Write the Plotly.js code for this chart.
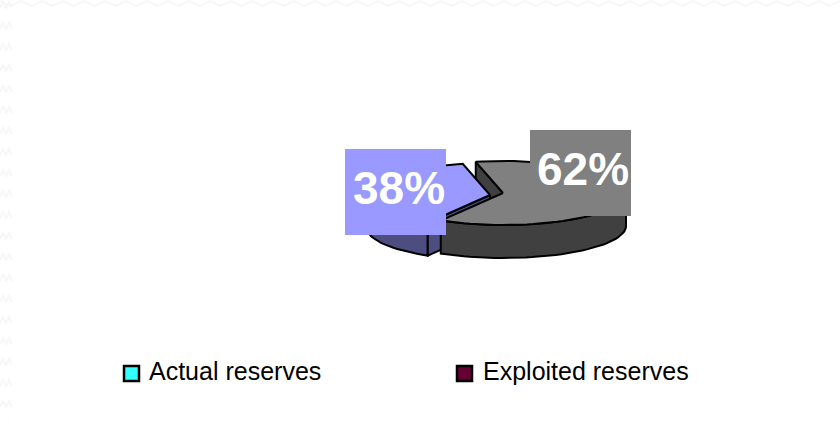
<!DOCTYPE html>
<html>
<head>
<meta charset="utf-8">
<script src="https://cdn.plot.ly/plotly-3.0.1.min.js"></script>
<style>html,body{margin:0;padding:0;background:#fff}#c{width:840px;height:421px}</style>
</head>
<body>
<div id="c"></div>
<script>
var seriesNames = ['Actual reserves', 'Exploited reserves'];
var seriesValues = [38, 62];
var sliceColors = ['#9999ff', '#808080'];
var sideColors = ['#4d4d80', '#404040'];
var legendColors = ['#33ffff', '#660033'];

var RX = 123, RY = 32, DEPTH = 33;
var START = 210.4;                     // clockwise degrees from 12 o'clock
var centers = [[490, 195], [503, 193]];
var total = seriesValues[0] + seriesValues[1];
var span0 = seriesValues[0] / total * 360;
var angles = [[START, START + span0], [START + span0, START + 360]];

function rim(c, a, dy) {
  var r = a * Math.PI / 180;
  return [c[0] + RX * Math.sin(r), c[1] - RY * Math.cos(r) + (dy || 0)];
}
function arc(c, a0, a1, dy) {
  var pts = [], n = Math.ceil(Math.abs(a1 - a0) / 3);
  for (var i = 0; i <= n; i++) pts.push(rim(c, a0 + (a1 - a0) * i / n, dy));
  return pts;
}
function poly(pts, fill) {
  return {
    type: 'scatter', mode: 'lines', hoverinfo: 'skip', showlegend: false,
    x: pts.map(function (p) { return p[0]; }).concat([pts[0][0]]),
    y: pts.map(function (p) { return p[1]; }).concat([pts[0][1]]),
    fill: 'toself', fillcolor: fill, line: {color: '#000', width: 2}
  };
}
// outer wall of a slice: visible part of the rim is the front half (90..270 deg)
function wall(c, a0, a1) {
  var f0 = Math.max(a0, 90), f1 = Math.min(a1, 270);
  if (a1 > 360) { f0 = 90; f1 = Math.min(a1 - 360, 270); }
  return arc(c, f0, f1, 0).concat(arc(c, f1, f0, DEPTH));
}
function cutFace(c, a) {
  var e = rim(c, a, 0);
  return [c, e, [e[0], e[1] + DEPTH], [c[0], c[1] + DEPTH]];
}
function topFace(c, a0, a1) { return [c].concat(arc(c, a0, a1, 0)); }

var traces = [
  // back cut face of the grey slice
  poly(cutFace(centers[1], angles[1][0]), sideColors[1]),
  // blue slice
  poly(wall(centers[0], angles[0][0], angles[0][1]), sideColors[0]),
  poly(cutFace(centers[0], angles[0][0]), sideColors[0]),
  poly(topFace(centers[0], angles[0][0], angles[0][1]), sliceColors[0]),
  // grey slice
  poly(wall(centers[1], angles[1][0], angles[1][1]), sideColors[1]),
  poly(topFace(centers[1], angles[1][0], angles[1][1]), sliceColors[1]),
  // legend swatches
  {
    type: 'scatter', mode: 'markers', hoverinfo: 'skip', showlegend: false,
    x: [131.5, 464.5], y: [373.5, 373.5],
    marker: {symbol: 'square', size: 15, color: legendColors, line: {color: '#000', width: 2.5}}
  }
];

var boxes = [[345, 446, 149, 235], [530, 631, 130, 216]];
var labelPos = [[399, 188], [583, 169]];
var shapes = boxes.map(function (b, i) {
  return {type: 'rect', layer: 'above', x0: b[0], x1: b[1], y0: b[2], y1: b[3],
          fillcolor: sliceColors[i], line: {width: 0}};
});
// faint zigzag wallpaper along the top and left edges
var zt = 'M-10,1', zl = '';
for (var x = 0; x <= 850; x += 10.5) zt += ' L' + x + ',' + (Math.round(x / 10.5) % 2 ? 6 : 1);
for (var y = 0; y < 430; y += 21) {
  zl += 'M0,' + (y + 8) + ' L3,' + (y + 2) + ' L6,' + (y + 8) + ' L9,' + (y + 2) + ' L12,' + (y + 8);
}
shapes.unshift({type: 'path', layer: 'below', path: zt, line: {color: '#f7f7f7', width: 2}});
shapes.unshift({type: 'path', layer: 'below', path: zl, line: {color: '#f7f7f7', width: 2}});

var annotations = seriesValues.map(function (v, i) {
  return {x: labelPos[i][0], y: labelPos[i][1], xref: 'x', yref: 'y', showarrow: false,
          text: '<b>' + Math.round(v / total * 100) + '%</b>',
          font: {family: 'Liberation Sans', size: 46, color: '#fff'}};
});
[149, 483].forEach(function (xp, i) {
  annotations.push({x: xp, y: 371, xref: 'x', yref: 'y', showarrow: false, xanchor: 'left',
    text: seriesNames[i], font: {family: 'Liberation Sans', size: 25, color: '#000'}, xshift: -2});
});

var hidden = {visible: false, fixedrange: true};
Plotly.newPlot('c', traces, {
  width: 840, height: 421,
  margin: {l: 0, r: 0, t: 0, b: 0},
  paper_bgcolor: '#fff', plot_bgcolor: 'rgba(0,0,0,0)',
  showlegend: false,
  xaxis: Object.assign({range: [0, 840]}, hidden),
  yaxis: Object.assign({range: [421, 0]}, hidden),
  shapes: shapes, annotations: annotations
}, {displayModeBar: false, staticPlot: true});
</script>
</body>
</html>
